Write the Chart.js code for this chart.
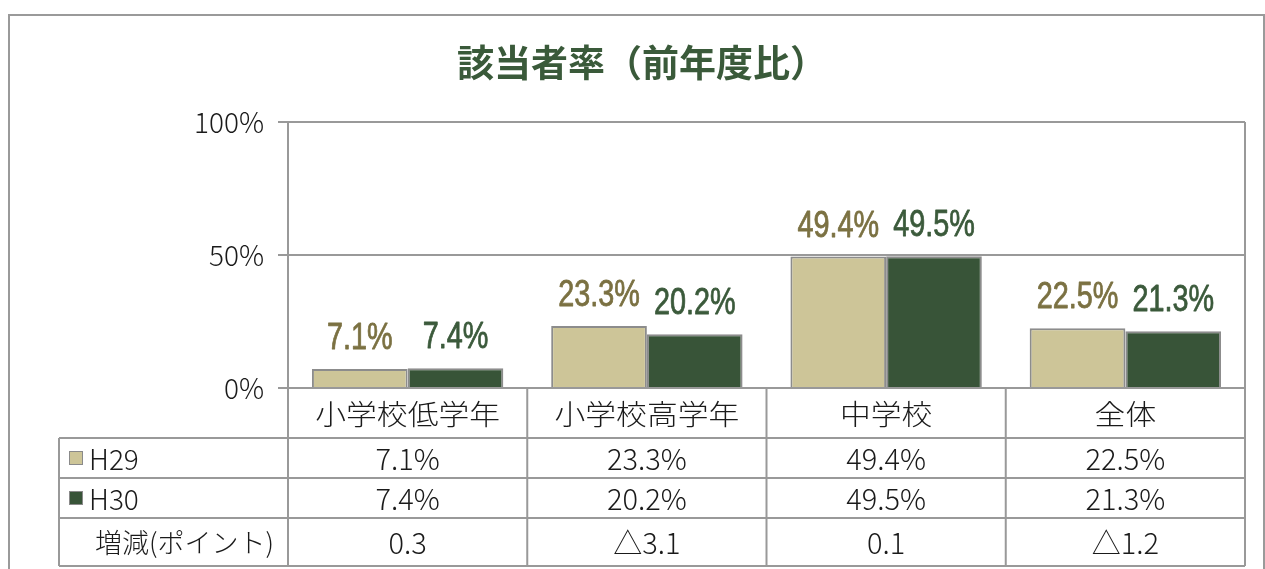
<!DOCTYPE html>
<html>
<head>
<meta charset="utf-8">
<script src="https://cdn.jsdelivr.net/npm/chart.js@4/dist/chart.umd.min.js"></script>
<style>
html,body{margin:0;padding:0;background:#fff;}
#wrap{width:1265px;height:569px;position:relative;}
</style>
</head>
<body>
<div id="wrap"><canvas id="c" width="1265" height="569"></canvas></div>
<script>
const categories = ['小学校低学年', '小学校高学年', '中学校', '全体'];
const seriesNames = ['H29', 'H30'];
const h29 = [7.1, 23.3, 49.4, 22.5];
const h30 = [7.4, 20.2, 49.5, 21.3];
const yTicks = [0, 50, 100];
const titleText = '該当者率（前年度比）';
const changeLabel = '増減(ポイント)';

const barColors = ['#cdc598', '#385438'];
const labelColors = ['#7b7142', '#3b5a3b'];
const lineGrey = '#999999';
const CJK = "'Noto Sans CJK JP', 'Noto Sans', sans-serif";

function fmtPct(v){ return v.toFixed(1) + '%'; }
function fmtChange(a, b){
  const d = Math.round((b - a) * 10) / 10;
  return d < 0 ? '△' + Math.abs(d).toFixed(1) : d.toFixed(1);
}

function drawText(ctx, text, x, y, font, color, align, sx, baseline, strokeW){
  ctx.save();
  ctx.font = font;
  ctx.fillStyle = color;
  ctx.textAlign = align;
  ctx.textBaseline = baseline || 'middle';
  ctx.translate(x, y);
  ctx.scale(sx || 1, 1);
  ctx.fillText(text, 0, 0);
  if (strokeW) {
    ctx.strokeStyle = color;
    ctx.lineWidth = strokeW;
    ctx.lineJoin = 'round';
    ctx.strokeText(text, 0, 0);
  }
  ctx.restore();
}

const decor = {
  id: 'decor',
  afterDatasetsDraw(chart){
    const ctx = chart.ctx;
    const area = chart.chartArea;
    // data labels above bars
    chart.data.datasets.forEach((ds, di) => {
      const meta = chart.getDatasetMeta(di);
      meta.data.forEach((bar, i) => {
        drawText(ctx, fmtPct(ds.data[i]), bar.x, bar.y - 20,
          "36px 'Liberation Sans', 'Noto Sans', sans-serif", labelColors[di], 'center', 0.8, 'alphabetic', 0.8);
      });
    });
    // plot right border
    ctx.save();
    ctx.strokeStyle = lineGrey;
    ctx.lineWidth = 2;
    ctx.beginPath();
    ctx.moveTo(area.right, area.top);
    ctx.lineTo(area.right, area.bottom);
    ctx.stroke();
    ctx.restore();
  },
  afterDraw(chart){
    const ctx = chart.ctx;
    const area = chart.chartArea;
    const xs = chart.scales.x;
    const n = categories.length;
    const step = (xs.getPixelForValue(1) - xs.getPixelForValue(0));
    const bounds = [];
    for (let i = 0; i < n; i++) bounds.push(xs.getPixelForValue(i) - step / 2);
    bounds.push(xs.getPixelForValue(n - 1) + step / 2);
    const tableLeft = 59;
    const r0 = area.bottom, r1 = area.bottom + 50, r2 = r1 + 40, r3 = r2 + 40, r4 = r3 + 48;

    // title
    drawText(ctx, titleText, 642, 63, "bold 37px " + CJK, '#3a5a3a', 'center', 1.0);

    ctx.save();
    // outer border
    ctx.strokeStyle = '#9a9a9a';
    ctx.lineWidth = 2;
    ctx.beginPath();
    ctx.moveTo(9, 600);
    ctx.lineTo(9, 15);
    ctx.lineTo(1264, 15);
    ctx.lineTo(1264, 600);
    ctx.stroke();

    // table lines
    ctx.strokeStyle = lineGrey;
    ctx.lineWidth = 2;
    ctx.beginPath();
    bounds.forEach(b => { ctx.moveTo(b, r0); ctx.lineTo(b, r4); });
    ctx.moveTo(tableLeft, r1); ctx.lineTo(tableLeft, r4);
    [r1, r2, r3, r4].forEach(y => { ctx.moveTo(tableLeft, y); ctx.lineTo(bounds[n], y); });
    ctx.stroke();
    ctx.restore();

    const valFont = "300 29px " + CJK;
    // category labels
    categories.forEach((c, i) => {
      drawText(ctx, c, xs.getPixelForValue(i), (r0 + r1) / 2 + 1, "300 28px " + CJK, '#1a1a1a', 'center', 1.1);
    });
    // rows
    const rows = [h29, h30];
    rows.forEach((arr, ri) => {
      const yc = ri === 0 ? (r1 + r2) / 2 : (r2 + r3) / 2;
      ctx.save();
      ctx.fillStyle = barColors[ri];
      ctx.strokeStyle = '#8a8a8a';
      ctx.lineWidth = 1;
      ctx.fillRect(69.5, yc - 6.5, 13, 13);
      ctx.strokeRect(69.5, yc - 6.5, 13, 13);
      ctx.restore();
      drawText(ctx, seriesNames[ri], 89, yc + 1, "300 28px " + CJK, '#1a1a1a', 'left', 1);
      arr.forEach((v, i) => {
        drawText(ctx, fmtPct(v), xs.getPixelForValue(i), yc + 1, valFont, '#1a1a1a', 'center', 1);
      });
    });
    const yc3 = (r3 + r4) / 2;
    drawText(ctx, changeLabel, 95, yc3 + 1, "300 27px " + CJK, '#1a1a1a', 'left', 1);
    h29.forEach((v, i) => {
      drawText(ctx, fmtChange(v, h30[i]), xs.getPixelForValue(i), yc3 + 1, valFont, '#1a1a1a', 'center', 1);
    });
  }
};

new Chart(document.getElementById('c'), {
  type: 'bar',
  data: {
    labels: categories,
    datasets: [
      { label: seriesNames[0], data: h29, backgroundColor: barColors[0], borderColor: '#8c8c8c', borderWidth: 2 },
      { label: seriesNames[1], data: h30, backgroundColor: barColors[1], borderColor: '#8c8c8c', borderWidth: 2 }
    ]
  },
  options: {
    responsive: false,
    animation: false,
    devicePixelRatio: 1,
    layout: { padding: { left: 0, right: 20, top: 122, bottom: 181 } },
    datasets: { bar: { categoryPercentage: 0.8, barPercentage: 1.0 } },
    plugins: {
      legend: { display: false },
      tooltip: { enabled: false },
      title: { display: false }
    },
    scales: {
      x: { display: false },
      y: {
        min: 0, max: 100,
        afterFit(s){ s.width = 288; },
        afterBuildTicks(s){ s.ticks = yTicks.map(v => ({ value: v })); },
        ticks: {
          callback: v => v + '%',
          color: '#1a1a1a',
          font: { family: "'Noto Sans CJK JP', sans-serif", size: 28, weight: 300 },
          padding: 14
        },
        grid: { color: lineGrey, lineWidth: 2, tickLength: 10, drawTicks: true },
        border: { display: true, color: lineGrey, width: 2 }
      }
    }
  },
  plugins: [decor]
});
</script>
</body>
</html>
